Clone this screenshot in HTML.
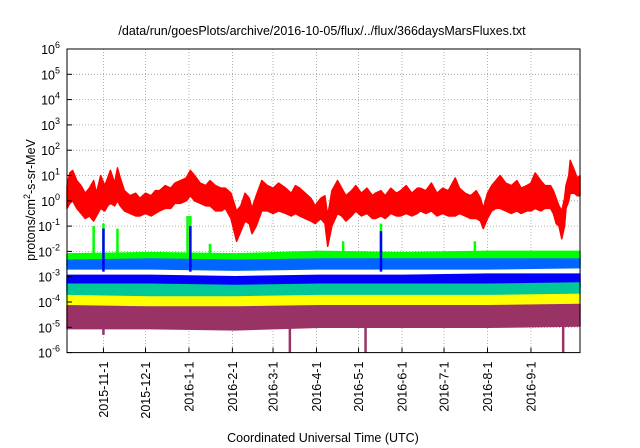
<!DOCTYPE html>
<html><head><meta charset="utf-8">
<style>
body{margin:0;background:#fff;}
svg{display:block;font-family:"Liberation Sans",sans-serif;}
</style></head>
<body>
<svg id="chart" width="640" height="448" viewBox="0 0 640 448">
<text x="322" y="35" text-anchor="middle" font-size="12.5" fill="#000">/data/run/goesPlots/archive/2016-10-05/flux/../flux/366daysMarsFluxes.txt</text>
<text x="323" y="442" text-anchor="middle" font-size="12.5" fill="#000">Coordinated Universal Time (UTC)</text>
<text transform="translate(35,200) rotate(-90)" text-anchor="middle" font-size="12.5" fill="#000">protons/cm<tspan dy="-5" font-size="9">2</tspan><tspan dy="5">-s-sr-MeV</tspan></text>
<g id="grid"></g>
<g id="series"></g>
<g id="axes"></g>
</svg>
<script>
// ---- data ----
const monthLabels = ["2015-11-1","2015-12-1","2016-1-1","2016-2-1","2016-3-1","2016-4-1","2016-5-1","2016-6-1","2016-7-1","2016-8-1","2016-9-1"];
const monthDays = [26,56,87,118,147,178,208,239,269,300,331];
const yTickExps = [-6,-5,-4,-3,-2,-1,0,1,2,3,4,5,6];

const redDays = [0,2,4,7,10,13,16,19,21,24,27,29,31,34,36,38,41,45,49,52,56,60,63,66,70,74,77,81,85,88,91,95,99,102,106,110,113,117,121,124,127,130,132,135,139,143,147,151,156,160,163,166,170,174,177,181,184,186,189,193,196,199,203,206,210,214,218,220,224,227,231,235,238,242,246,250,252,256,260,264,268,272,277,280,284,288,292,295,297,300,303,306,309,313,317,321,324,328,331,334,338,341,345,347,349,351,353,355,356,358,359,362,364,366];
const redHi = [0.6,1.1,1.2,0.8,0.6,0.3,0.5,0.8,0.3,1.0,0.6,0.9,1.2,0.7,1.3,0.9,0.4,0.2,0.3,0.1,0.3,0.2,0.4,0.4,0.6,0.5,0.7,0.8,0.9,1.2,1.0,0.7,0.6,0.8,0.6,0.5,0.5,0.3,-0.4,-0.2,0.3,0.1,-0.3,0.2,0.8,0.6,0.5,0.7,0.5,0.3,0.6,0.5,0.3,0.1,-0.2,0.1,0.2,-0.6,0.4,0.8,0.5,0.2,0.4,0.6,0.3,0.5,0.2,0.3,0.4,0.2,0.5,0.3,0.4,0.6,0.3,0.5,0.5,0.4,0.7,0.3,0.5,0.4,0.9,0.5,0.3,0.2,0.4,0.1,-0.3,0.3,0.6,0.8,1.0,0.7,0.6,0.8,0.5,0.6,0.7,1.1,0.8,0.6,0.6,0.4,0.1,-0.2,-0.4,0.1,0.6,1.0,1.6,1.2,0.9,1.0];
const redLo = [-0.3,-0.1,0,-0.3,-0.5,-0.7,-0.6,-0.8,-0.6,-0.3,-0.4,-0.2,-0.1,-0.2,0,-0.2,-0.4,-0.5,-0.6,-0.6,-0.5,-0.6,-0.5,-0.4,-0.3,-0.3,-0.1,-0.1,0.0,0.2,0.0,-0.1,-0.2,-0.2,-0.4,-0.4,-0.3,-0.7,-1.6,-1.2,-0.8,-0.9,-1.3,-1.0,-0.4,-0.4,-0.5,-0.4,-0.5,-0.6,-0.5,-0.6,-0.7,-0.8,-0.9,-0.7,-0.9,-1.8,-1.0,-0.5,-0.6,-0.8,-0.6,-0.4,-0.6,-0.5,-0.7,-0.7,-0.6,-0.7,-0.5,-0.6,-0.6,-0.5,-0.6,-0.5,-0.4,-0.5,-0.4,-0.6,-0.5,-0.6,-0.6,-0.5,-0.6,-0.7,-0.7,-0.8,-1.1,-0.7,-0.4,-0.3,-0.3,-0.4,-0.5,-0.4,-0.5,-0.4,-0.4,-0.3,-0.4,-0.3,-0.3,-0.5,-0.9,-1.0,-1.5,-1.0,-0.3,0.0,0.3,0.3,0.2,0.2];

const bandDays = [0,60,120,180,240,300,366];
const greenHi = [-2.1,-2.05,-2.1,-2.0,-2.05,-2.0,-2.0];
const greenLo = [-2.55,-2.55,-2.55,-2.5,-2.5,-2.5,-2.5];
const ltblueHi = [-2.35,-2.3,-2.35,-2.3,-2.3,-2.3,-2.3];
const ltblueLo = [-2.9,-2.9,-2.9,-2.85,-2.85,-2.85,-2.85];
const whiteHi = [-2.75,-2.75,-2.8,-2.75,-2.75,-2.75,-2.7];
const whiteLo = [-3.15,-3.15,-3.2,-3.15,-3.15,-3.1,-3.1];
const blueHi = [-2.95,-2.95,-3.0,-2.95,-2.95,-2.9,-2.9];
const blueLo = [-3.55,-3.55,-3.6,-3.55,-3.5,-3.5,-3.45];
const tealHi = [-3.3,-3.3,-3.35,-3.3,-3.3,-3.3,-3.25];
const tealLo = [-4.0,-4.0,-4.0,-3.95,-3.95,-3.95,-3.9];
const yellowHi = [-3.75,-3.8,-3.8,-3.75,-3.75,-3.75,-3.7];
const yellowLo = [-4.4,-4.4,-4.4,-4.35,-4.35,-4.35,-4.3];
const purpleHi = [-4.15,-4.2,-4.2,-4.15,-4.15,-4.15,-4.1];
const purpleLo = [-5.05,-5.05,-5.1,-5.0,-5.0,-5.0,-4.95];

const greenSpikeDays = [19,26,36,86,88,102,197,224,291];
const greenSpikeVals = [-1.0,-0.9,-1.1,-0.6,-0.6,-1.7,-1.6,-0.9,-1.6];
const blueSpikeDays = [26,88,224];
const blueSpikeVals = [-1.1,-1.0,-1.2];
const purpleDipDays = [26,159,213,354];
const purpleDipVals = [-5.3,-6.0,-6.0,-6.0];

// ---- axes ----
const X0=67, X1=580, Y0=49, Y1=352.6, DAYS=366;
const xs = d => X0 + d*(X1-X0)/DAYS;
const ys = l => Y1 - (l+6)*(Y1-Y0)/12;
const NS="http://www.w3.org/2000/svg";
function mk(tag, attrs, parent){const e=document.createElementNS(NS,tag);for(const k in attrs)e.setAttribute(k,attrs[k]);parent.appendChild(e);return e;}
const grid=document.getElementById('grid'), ser=document.getElementById('series'), ax=document.getElementById('axes');

yTickExps.forEach(p=>{
  const y=ys(p);
  if(p>-6&&p<6){const g=mk('line',{x1:X0,x2:X1,y1:y,y2:y,stroke:'#999','stroke-width':0.8,'stroke-dasharray':'1,2'},grid);
  
  }
  const t=mk('text',{x:X0-7,y:y+5,'text-anchor':'end','font-size':12.5},ax);
  
  
  t.innerHTML='10<tspan dy="-6" font-size="9">'+p+'</tspan>';
  const tk=mk('line',{x1:X0,x2:X0+5,y1:y,y2:y,stroke:'#000'},ax);
  
  
});
monthDays.forEach((d,i)=>{
  const x=xs(d);
  const g=mk('line',{x1:x,x2:x,y1:Y0,y2:Y1,stroke:'#999','stroke-width':0.8,'stroke-dasharray':'1,2'},grid);
  
  
  const tk=mk('line',{x1:x,x2:x,y1:Y1,y2:Y1-5,stroke:'#000'},ax);
  
  
  const t=mk('text',{transform:`translate(${x+4.5},${Y1+9}) rotate(-90)`,'text-anchor':'end','font-size':12.5},ax);
  
  
  t.textContent=monthLabels[i];
});
const fr=mk('rect',{x:X0,y:Y0,width:X1-X0,height:Y1-Y0,fill:'none',stroke:'#000','stroke-width':1},ax);



function band(days,hi,lo,color,name){
  let pts=days.map((d,i)=>xs(d)+','+ys(hi[i]));
  for(let i=days.length-1;i>=0;i--)pts.push(xs(days[i])+','+ys(lo[i]));
  const p=mk('polygon',{points:pts.join(' '),fill:color,stroke:color,'stroke-width':1.5,'stroke-linejoin':'round'},ser);
  
  
}
function spikes(days,vals,base,color,name){
  days.forEach((d,i)=>{
    const l=mk('line',{x1:xs(d),x2:xs(d),y1:ys(base),y2:ys(vals[i]),stroke:color,'stroke-width':2.5},ser);
    
    
  });
}
band(redDays,redHi,redLo,'#ff0000','series-red');
band(bandDays,greenHi,greenLo,'#00ff00','series-green');
spikes(greenSpikeDays,greenSpikeVals,-2.2,'#00ff00','green-spike');
band(bandDays,ltblueHi,ltblueLo,'#0066ff','series-light-blue');
band(bandDays,whiteHi,whiteLo,'#ffffff','series-white');
band(bandDays,blueHi,blueLo,'#0000ff','series-blue');
spikes(blueSpikeDays,blueSpikeVals,-2.8,'#0000ff','blue-spike');
band(bandDays,tealHi,tealLo,'#00c896','series-teal');
band(bandDays,yellowHi,yellowLo,'#ffff00','series-yellow');
band(bandDays,purpleHi,purpleLo,'#993366','series-purple');
spikes(purpleDipDays,purpleDipVals,-4.8,'#993366','purple-dip');
</script>
</body></html>
